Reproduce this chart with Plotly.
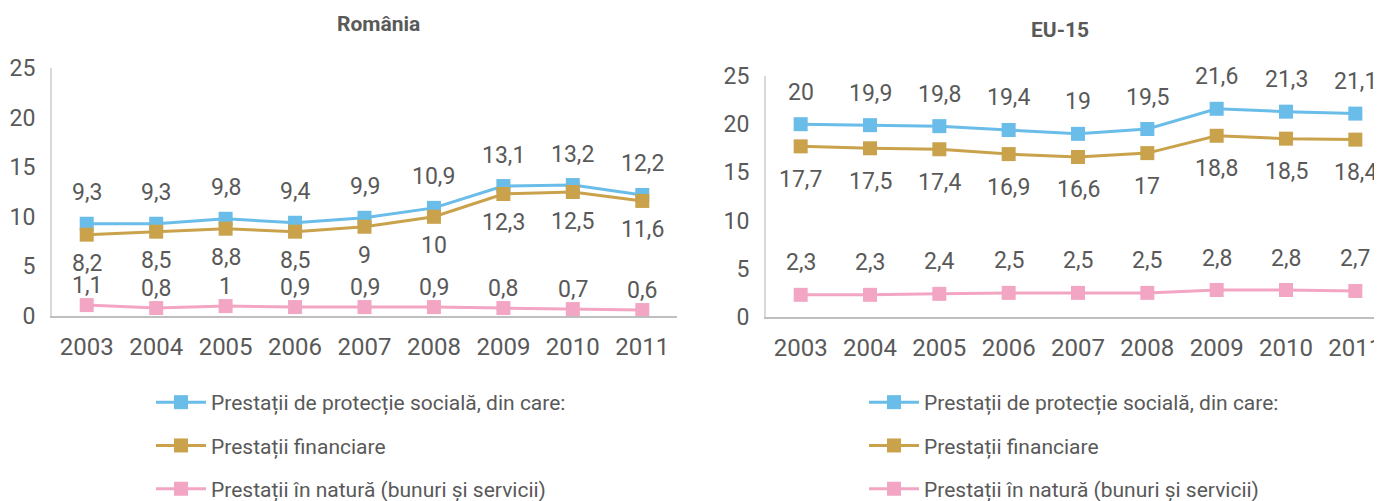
import plotly.graph_objects as go

years = ["2003", "2004", "2005", "2006", "2007", "2008", "2009", "2010", "2011"]

ro_total = [9.3, 9.3, 9.8, 9.4, 9.9, 10.9, 13.1, 13.2, 12.2]
ro_fin = [8.2, 8.5, 8.8, 8.5, 9.0, 10.0, 12.3, 12.5, 11.6]
ro_nat = [1.1, 0.8, 1.0, 0.9, 0.9, 0.9, 0.8, 0.7, 0.6]

eu_total = [20.0, 19.9, 19.8, 19.4, 19.0, 19.5, 21.6, 21.3, 21.1]
eu_fin = [17.7, 17.5, 17.4, 16.9, 16.6, 17.0, 18.8, 18.5, 18.4]
eu_nat = [2.3, 2.3, 2.4, 2.5, 2.5, 2.5, 2.8, 2.8, 2.7]

names = [
    "Prestații de protecție socială, din care:",
    "Prestații financiare",
    "Prestații în natură (bunuri și servicii)",
]
titles = ["România", "EU-15"]
yticks = [0, 5, 10, 15, 20, 25]

colors = ["#69BDE8", "#C9A24B", "#F3A6C3"]
TXT = "#595959"
FONT = "Roboto"

W, H = 1382, 501
OFF = 8  # page body margin


def px_x(x):
    return (x - OFF) / W


def px_y(y):
    return 1 - (y - OFF) / H


fig = go.Figure()

panels = [
    dict(series=[ro_total, ro_fin, ro_nat], xa="x", ya="y", legend="legend",
         shifts=[31, -29, 20]),
    dict(series=[eu_total, eu_fin, eu_nat], xa="x2", ya="y2", legend="legend2",
         shifts=[32, -33, 32]),
]

annotations = []
for p in panels:
    for i, (vals, name, col) in enumerate(zip(p["series"], names, colors)):
        fig.add_trace(go.Scatter(
            x=years, y=vals, name=name, mode="lines+markers",
            line=dict(color=col, width=3),
            marker=dict(symbol="square", size=14, color=col),
            xaxis=p["xa"], yaxis=p["ya"], legend=p["legend"],
            legendgroup=p["legend"] + str(i),
            hoverinfo="skip",
        ))
        for k, yv in enumerate(vals):
            annotations.append(dict(
                x=k, y=yv, xref=p["xa"], yref=p["ya"],
                xanchor="center", yanchor="middle",
                text=f"{yv:g}".replace(".", ","), showarrow=False,
                yshift=p["shifts"][i],
                font=dict(family=FONT, size=23, color=TXT),
            ))

# titles
annotations.append(dict(x=px_x(378), y=px_y(24), xref="paper", yref="paper",
                        xanchor="center", yanchor="middle",
                        text="<b>" + titles[0] + "</b>", showarrow=False,
                        font=dict(family=FONT, size=21, color=TXT)))
annotations.append(dict(x=px_x(1060), y=px_y(30), xref="paper", yref="paper",
                        xanchor="center", yanchor="middle",
                        text="<b>" + titles[1] + "</b>", showarrow=False,
                        font=dict(family=FONT, size=21, color=TXT)))

axis_common = dict(
    showgrid=False, zeroline=False, ticks="", automargin=False,
)
xfont = dict(family=FONT, size=24, color=TXT)
yfont = dict(family=FONT, size=23, color=TXT)

legend_common = dict(
    xanchor="left", yanchor="top",
    font=dict(family=FONT, size=21, color=TXT),
    itemwidth=50, tracegroupgap=13, bgcolor="rgba(0,0,0,0)",
)

fig.update_layout(
    width=W, height=H, autosize=False,
    margin=dict(l=0, r=0, t=0, b=0, autoexpand=False),
    paper_bgcolor="white", plot_bgcolor="white",
    showlegend=True,
    annotations=annotations,
    xaxis=dict(domain=[px_x(52), px_x(677)], anchor="y", type="category",
               range=[-0.5, 8.5], showline=True, linecolor="#BFBFBF", linewidth=2,
               ticklabelstandoff=8, tickfont=xfont, **axis_common),
    yaxis=dict(domain=[px_y(316), px_y(68)], anchor="x", range=[0, 25],
               tickvals=yticks, showline=True, linecolor="#D9D9D9", linewidth=2,
               ticklabelstandoff=10, tickfont=yfont, **axis_common),
    xaxis2=dict(domain=[px_x(766), 1.0], anchor="y2", type="category",
                range=[-0.5, 8.5], showline=True, linecolor="#BFBFBF", linewidth=2,
                ticklabelstandoff=8, tickfont=xfont, **axis_common),
    yaxis2=dict(domain=[px_y(317), px_y(76)], anchor="x2", range=[0, 25],
                tickvals=yticks, showline=True, linecolor="#D9D9D9", linewidth=2,
                ticklabelstandoff=10, tickfont=yfont, **axis_common),
    legend=dict(x=px_x(151), y=px_y(382), **legend_common),
    legend2=dict(x=px_x(864), y=px_y(382), **legend_common),
)

fig.write_html("out.html")
